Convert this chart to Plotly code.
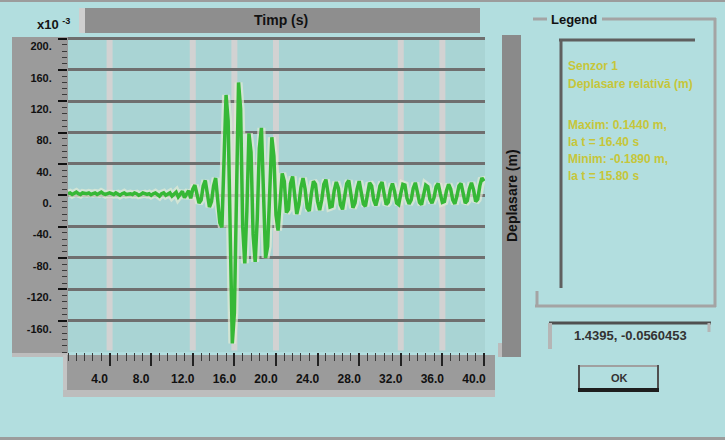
import plotly.graph_objects as go

W, H = 725, 440

# Sampling of the displacement record (seconds)
T_START = 0.0
T_STEP = 0.2

# Displacement record, in units of 1e-3 m
deplasare = [
    2, 3, 1, 2, 4, 2, 1, 3, 2, 2,
    3, 1, 2, 3, 1, 2, 4, 2, 1, 2,
    3, 2, 1, 3, 2, 0, 2, 3, 1, 2,
    2, 1, 3, 2, 0, 1, 3, 2, 1, 2,
    0, 2, 3, 1, -1, 2, 3, 0, 1, 3,
    -1, 2, 4, -2, 1, 5, -3, 2, 6, -4,
    8, 13, 2, -10, -6, 12, 19, 4, -15, -8,
    12, 22, -5, -35, -41, 40, 128, 95, -60, -189,
    -150, 20, 144, 110, -40, -87, -20, 79, 55, -50,
    -85, -30, 60, 86, 10, -80, -65, 20, 74, 50,
    -25, -45, -10, 28, 18, -22, -18, 15, 24, -5,
    -24, -12, 10, 22, 8, -16, -20, 2, 18, 14,
    -8, -19, -6, 14, 20, 3, -15, -14, 6, 17,
    9, -12, -18, -2, 15, 19, 0, -16, -10, 8,
    18, 6, -11, -14, 3, 16, 12, -6, -13, -3,
    12, 17, 2, -12, -9, 7, 15, 5, -10, -12,
    2, 14, 13, -4, -11, -6, 9, 16, 4, -9,
    -12, 0, 13, 11, -5, -10, -3, 11, 15, 2,
    -9, -8, 6, 14, 8, -6, -11, -1, 12, 15,
    1, -10, -7, 8, 16, 7, -8, -5, 12, 22,
    18,
]
time_s = [round(T_START + i * T_STEP, 2) for i in range(len(deplasare))]

x_ticks = [4, 8, 12, 16, 20, 24, 28, 32, 36, 40]
x_labels = ["4.0", "8.0", "12.0", "16.0", "20.0", "24.0", "28.0", "32.0", "36.0", "40.0"]
y_ticks = [200, 160, 120, 80, 40, 0, -40, -80, -120, -160]
y_labels = ["200.", "160.", "120.", "80.", "40.", "0.", "-40.", "-80.", "-120.", "-160."]
v_grid = [4, 12, 16, 20, 32, 36]

readout = "1.4395, -0.0560453"

FONT = "Liberation Sans"


def px(x):
    return x / W


def py(y):
    return 1 - y / H


shapes = []


def rect(x0, y0, x1, y1, fill):
    shapes.append(dict(type="rect", xref="paper", yref="paper",
                       x0=px(x0), x1=px(x1), y0=py(y1), y1=py(y0),
                       fillcolor=fill, line=dict(width=0), layer="below"))


def seg(x0, y0, x1, y1, color, width):
    shapes.append(dict(type="line", xref="paper", yref="paper",
                       x0=px(x0), x1=px(x1), y0=py(y0), y1=py(y1),
                       line=dict(color=color, width=width), layer="below"))


# window frame
rect(0, 0, 725, 2, "#9c9c9c")
rect(0, 437, 725, 440, "#9c9c9c")

# title bar
rect(79, 8, 85, 33, "#cfcfcf")
rect(85, 8, 480, 33, "#8e8e8e")

# y scale panel
rect(12, 37, 68, 353, "#9b9b9b")
rect(12, 353, 68, 357, "#bdbdbd")

# x scale panel
rect(63, 355, 67, 397, "#c4c4c4")
rect(67, 355, 495, 390, "#9b9b9b")
rect(63, 390, 495, 397, "#bdbdbd")

# right-hand name bar
rect(498, 343, 503, 357, "#bcbcbc")
rect(502, 35, 521, 357, "#8a8a8a")

# legend frame
seg(533, 19, 547, 19, "#a4a4a4", 3)
seg(602, 19, 716, 19, "#a4a4a4", 3)
seg(715, 18, 715, 307, "#a4a4a4", 3)
seg(535, 306, 716, 306, "#a4a4a4", 3)
seg(537, 291, 537, 307, "#a4a4a4", 3)
seg(559, 40, 695, 40, "#5f5f5f", 3)
seg(561, 39, 561, 288, "#5f5f5f", 3)

# readout box
seg(549, 323, 711, 323, "#505050", 3)
seg(550, 323, 550, 349, "#b5b5b5", 4)
seg(709, 323, 709, 332, "#b5b5b5", 3)

# OK button
seg(578, 366, 659, 366, "#a0a0a0", 2)
seg(579, 365, 579, 392, "#505050", 2)
seg(658, 365, 658, 392, "#505050", 2)
seg(578, 390, 659, 390, "#1e1e1e", 4)

# vertical grid lines, drawn on the time scale
for v in v_grid:
    shapes.append(dict(type="line", xref="x", yref="y domain", x0=v, x1=v,
                       y0=0.005, y1=0.995, line=dict(color="#d2d2d2", width=6),
                       layer="below"))

ymax = max(deplasare)
ymin = min(deplasare)
t_max = time_s[deplasare.index(ymax)]
t_min = time_s[deplasare.index(ymin)]

YEL = "#c6c63a"
ann = [
    dict(x=px(53), y=py(24), text="<b>x10 <sup>-3</sup></b>", font=dict(size=13, color="#151515")),
    dict(x=px(281), y=py(20), text="<b>Timp (s)</b>", font=dict(size=14, color="#111")),
    dict(x=px(512), y=py(195), text="<b>Deplasare (m)</b>", textangle=-90,
         font=dict(size=14, color="#111")),
    dict(x=px(574), y=py(19), text="<b>Legend</b>", font=dict(size=13, color="#111")),
    dict(x=px(566), y=py(66), text="<b>Senzor 1</b>", xanchor="left",
         font=dict(size=12, color=YEL)),
    dict(x=px(566), y=py(84), text="<b>Deplasare relativă (m)</b>", xanchor="left",
         font=dict(size=12, color=YEL)),
    dict(x=px(566), y=py(125), text=f"<b>Maxim: {ymax / 1000:.4f} m,</b>", xanchor="left",
         font=dict(size=12, color=YEL)),
    dict(x=px(566), y=py(142), text=f"<b>la t = {t_max:.2f} s</b>", xanchor="left",
         font=dict(size=12, color=YEL)),
    dict(x=px(566), y=py(159), text=f"<b>Minim: {ymin / 1000:.4f} m,</b>", xanchor="left",
         font=dict(size=12, color=YEL)),
    dict(x=px(566), y=py(176), text=f"<b>la t = {t_min:.2f} s</b>", xanchor="left",
         font=dict(size=12, color=YEL)),
    dict(x=px(630), y=py(335), text=f"<b>{readout}</b>", font=dict(size=13, color="#333")),
    dict(x=px(619), y=py(378), text="<b>OK</b>", font=dict(size=11, color="#333")),
]
for a in ann:
    a.update(xref="paper", yref="paper", showarrow=False)
    a.setdefault("xanchor", "center")
    a["yanchor"] = "middle"
    a["font"]["family"] = FONT

fig = go.Figure()
# pale trace under the main record
fig.add_trace(go.Scatter(x=time_s, y=deplasare, mode="lines",
                         line=dict(color="#e4ecd6", width=8), opacity=0.7,
                         hoverinfo="skip", showlegend=False))
fig.add_trace(go.Scatter(x=time_s, y=deplasare, mode="lines",
                         line=dict(color="#36b836", width=3.5),
                         name="Deplasare", showlegend=False))

fig.update_layout(
    width=W, height=H, autosize=False,
    margin=dict(l=0, r=0, t=0, b=0, pad=0),
    paper_bgcolor="#b2dedf",
    plot_bgcolor="#a9d4d4",
    font=dict(family=FONT),
    showlegend=False,
    shapes=shapes,
    annotations=ann,
    xaxis=dict(
        domain=[px(68), px(485)], range=[0, 40.1], automargin=False,
        tickmode="array", tickvals=x_ticks, ticktext=x_labels,
        showgrid=False, zeroline=False, showline=False,
        ticks="outside", ticklen=13, tickwidth=2, tickcolor="#222",
        minor=dict(tickmode="linear", tick0=0, dtick=0.8, ticks="outside",
                   ticklen=8, tickwidth=1, tickcolor="#3a3a3a", showgrid=False),
        tickfont=dict(size=12, color="#111", weight="bold"),
        ticklabelshift=-10, ticklabelstandoff=3,
    ),
    yaxis=dict(
        domain=[py(352), py(37)], range=[-200, 202], automargin=False,
        tickmode="array", tickvals=y_ticks, ticktext=y_labels,
        showgrid=True, gridcolor="#6f6f6f", gridwidth=3,
        zeroline=False, showline=False,
        ticks="outside", ticklen=9, tickwidth=2, tickcolor="#111",
        minor=dict(tickmode="linear", tick0=0, dtick=8, ticks="outside",
                   ticklen=5, tickwidth=1, tickcolor="#3a3a3a", showgrid=False),
        tickfont=dict(size=11, color="#111", weight="bold"),
        ticklabelshift=8, ticklabelstandoff=4,
    ),
)

fig.write_html("out.html")
